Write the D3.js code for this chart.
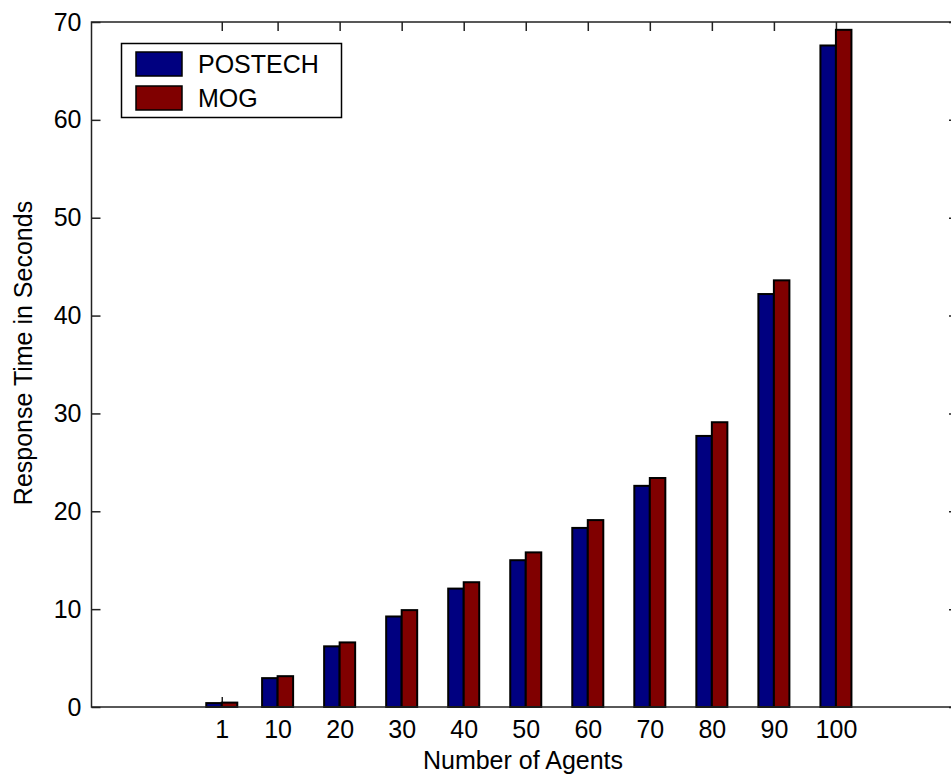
<!DOCTYPE html>
<html lang="en">
<head>
    <meta charset="UTF-8">
    <title>Response Time</title>
    <script src="https://d3js.org/d3.v7.min.js"></script>
    <style>
        body { margin: 0; background: #fff; }
        svg { display: block; }
        text { font-family: Arial, "Liberation Sans", sans-serif; fill: #000; }
    </style>
</head>
<body>

<svg class="canvas" width="951" height="779"></svg>

<script>

    // data
    var agents = [1, 10, 20, 30, 40, 50, 60, 70, 80, 90, 100];
    var postech = [0.4, 2.95, 6.2, 9.25, 12.1, 15.0, 18.3, 22.6, 27.7, 42.2, 67.6];
    var mog = [0.45, 3.15, 6.6, 9.9, 12.75, 15.8, 19.1, 23.4, 29.1, 43.6, 69.2];
    var seriesNames = ["POSTECH", "MOG"];
    var seriesColors = ["#000080", "#800000"];
    var yTicks = [0, 10, 20, 30, 40, 50, 60, 70];

    var canvas = d3.select("svg");

    // plot box (right edge falls just outside the window, as in the original)
    var plotLeft = 91.5, plotRight = 960, plotTop = 22, plotBottom = 707;
    var fontSize = 25;

    var x = d3.scaleLinear().domain([-20, 120]).range([plotLeft, plotRight]);
    var y = d3.scaleLinear().domain([0, 70]).range([plotBottom, plotTop]);

    var barW = 2.5; // one bar's width in x units

    // axes with inward ticks
    canvas.append("g")
        .attr("transform", "translate(" + plotLeft + ",0)")
        .call(d3.axisLeft(y).tickValues(yTicks).tickSize(-9).tickPadding(10))
        .call(function (g) { g.select(".domain").remove(); });

    canvas.append("g")
        .attr("transform", "translate(" + plotRight + ",0)")
        .call(d3.axisRight(y).tickValues(yTicks).tickSize(-11).tickFormat(""))
        .call(function (g) { g.select(".domain").remove(); });

    canvas.append("g")
        .attr("transform", "translate(0," + plotBottom + ")")
        .call(d3.axisBottom(x).tickValues(agents).tickSize(-10).tickPadding(13).tickFormat(d3.format("d")))
        .call(function (g) { g.select(".domain").remove(); });

    canvas.append("g")
        .attr("transform", "translate(0," + plotTop + ")")
        .call(d3.axisTop(x).tickValues(agents).tickSize(-9).tickFormat(""))
        .call(function (g) { g.select(".domain").remove(); });

    canvas.selectAll(".tick line").attr("stroke", "#222").attr("stroke-width", 1.5);
    canvas.selectAll(".tick text")
        .style("font-size", fontSize + "px")
        .style("font-family", "Arial, 'Liberation Sans', sans-serif")
        .attr("fill", "#000");

    // bars
    var rows = agents.map(function (a, i) {
        return { agents: a, values: [postech[i], mog[i]] };
    });

    var groups = canvas.selectAll("g.group")
        .data(rows)
        .enter()
        .append("g")
        .attr("class", "group");

    groups.selectAll("rect")
        .data(function (d) {
            return d.values.map(function (v, k) { return { a: d.agents, v: v, k: k }; });
        })
        .enter()
        .append("rect")
        .attr("x", function (d) { return x(d.a - barW + d.k * barW); })
        .attr("width", function () { return x(barW) - x(0); })
        .attr("y", function (d) { return y(d.v); })
        .attr("height", function (d) { return y(0) - y(d.v); })
        .attr("fill", function (d) { return seriesColors[d.k]; })
        .attr("stroke", "#000")
        .attr("stroke-width", 2);

    // frame
    canvas.append("rect")
        .attr("x", plotLeft)
        .attr("y", plotTop)
        .attr("width", plotRight - plotLeft)
        .attr("height", plotBottom - plotTop)
        .attr("fill", "none")
        .attr("stroke", "#222")
        .attr("stroke-width", 1.5);

    // axis titles
    canvas.append("text")
        .attr("x", 523)
        .attr("y", 769)
        .attr("text-anchor", "middle")
        .style("font-size", fontSize + "px")
        .text("Number of Agents");

    canvas.append("text")
        .attr("transform", "translate(32,353) rotate(-90)")
        .attr("text-anchor", "middle")
        .style("font-size", fontSize + "px")
        .text("Response Time in Seconds");

    // legend
    var legend = canvas.append("g");
    legend.append("rect")
        .attr("x", 121.5).attr("y", 43.5)
        .attr("width", 220).attr("height", 74)
        .attr("fill", "#fff")
        .attr("stroke", "#000")
        .attr("stroke-width", 1.5);

    var items = legend.selectAll("g.item")
        .data(seriesNames)
        .enter()
        .append("g")
        .attr("class", "item")
        .attr("transform", function (d, i) { return "translate(0," + (52 + i * 34) + ")"; });

    items.append("rect")
        .attr("x", 136).attr("y", 0)
        .attr("width", 46).attr("height", 24)
        .attr("fill", function (d, i) { return seriesColors[i]; })
        .attr("stroke", "#000")
        .attr("stroke-width", 1.5);

    items.append("text")
        .attr("x", 198)
        .attr("y", 21)
        .style("font-size", fontSize + "px")
        .text(function (d) { return d; });

</script>
</body>
</html>
